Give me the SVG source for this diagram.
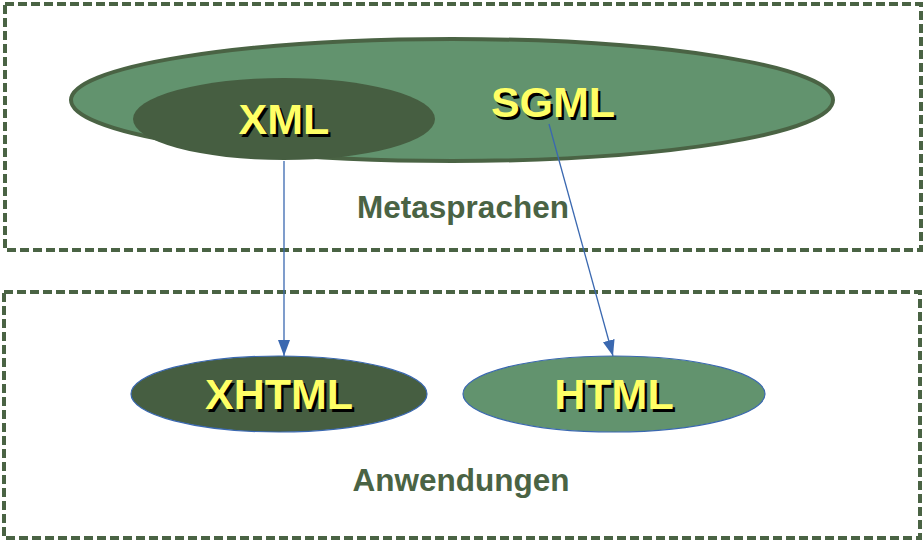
<svg xmlns="http://www.w3.org/2000/svg" width="924" height="542" viewBox="0 0 924 542">
<defs>
<style>
.frame{fill:none;stroke:#4A6344;stroke-width:4;stroke-dasharray:9 4}
.lbl{font-family:"Liberation Sans",Arial,sans-serif;font-weight:bold;font-size:43px;text-anchor:middle}
.sh{fill:#000}
.fg{fill:#FFFF66}
.cap{font-family:"Liberation Sans",Arial,sans-serif;font-weight:bold;font-size:31.5px;fill:#4A6344;text-anchor:middle}
.edge{stroke:#3A68B0;stroke-width:1.3;fill:none;marker-end:url(#arr)}
</style>
<marker id="arr" viewBox="0 0 16 12" refX="16" refY="6" markerWidth="16" markerHeight="12" markerUnits="userSpaceOnUse" orient="auto">
<path d="M0,0 L16,6 L0,12 Z" fill="#3A68B0"/>
</marker>
</defs>
<g id="meta">
<rect class="frame" x="5" y="4" width="916" height="246"/>
<text class="cap" x="463" y="218">Metasprachen</text>
</g>
<g id="anw">
<rect class="frame" x="4" y="292" width="916" height="246"/>
<text class="cap" x="461" y="491">Anwendungen</text>
</g>
<g id="sgml">
<ellipse cx="452" cy="100" rx="381" ry="61" fill="#62936E" stroke="#4A6344" stroke-width="4"/>
<text class="lbl sh" x="555.5" y="119.5">SGML</text>
<text class="lbl fg" x="553" y="117">SGML</text>
</g>
<g id="xml">
<ellipse cx="284" cy="119" rx="151" ry="41" fill="#465E41"/>
<text class="lbl sh" x="286.5" y="136.5">XML</text>
<text class="lbl fg" x="284" y="134">XML</text>
</g>
<g id="xhtml">
<ellipse cx="279" cy="394" rx="148" ry="38" fill="#465E41" stroke="#3A68B0" stroke-width="1.2"/>
<text class="lbl sh" x="281.5" y="411.5">XHTML</text>
<text class="lbl fg" x="279" y="409">XHTML</text>
</g>
<g id="html">
<ellipse cx="614" cy="394" rx="151" ry="38" fill="#62936E" stroke="#3A68B0" stroke-width="1.2"/>
<text class="lbl sh" x="616.5" y="411.5">HTML</text>
<text class="lbl fg" x="614" y="409">HTML</text>
</g>
<g id="connectors">
<line class="edge" x1="284" y1="161" x2="284" y2="356"/>
<line class="edge" x1="549" y1="124" x2="613" y2="356"/>
</g>
</svg>
